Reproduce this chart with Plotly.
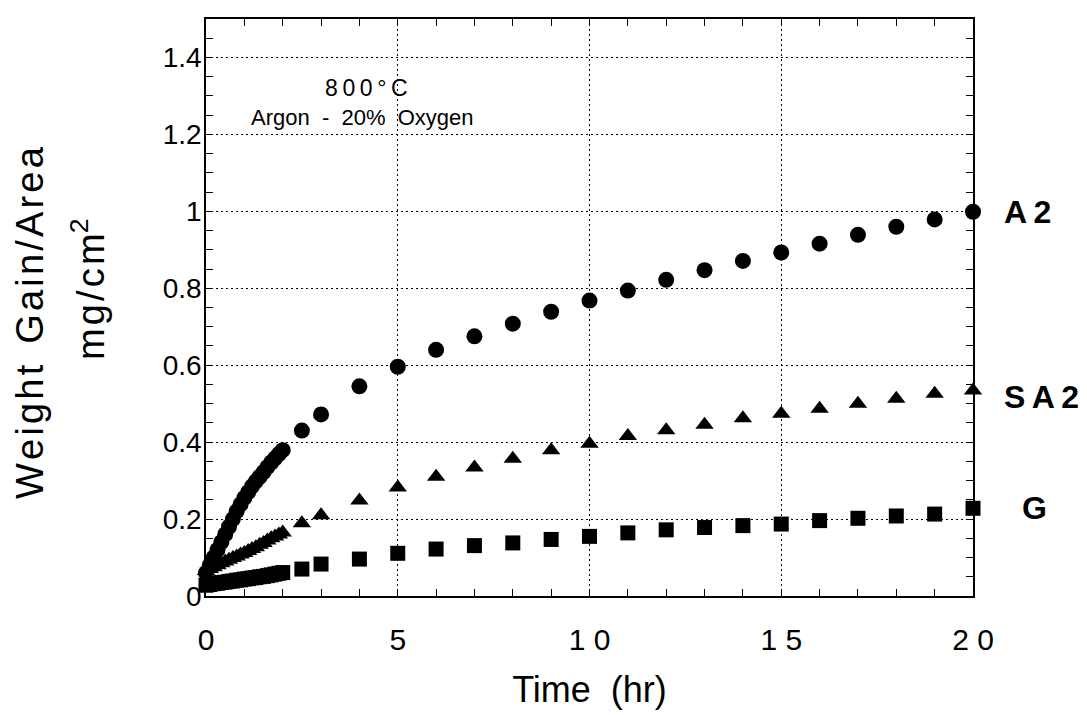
import plotly.graph_objects as go

# ---- data ----
time_hr = [0, 0.1, 0.2, 0.3, 0.4, 0.5, 0.6, 0.7, 0.8, 0.9, 1.0, 1.1, 1.2, 1.3, 1.4, 1.5, 1.6,
           1.7, 1.8, 1.9, 2.0, 2.5, 3, 4, 5, 6, 7, 8, 9, 10,
           11, 12, 13, 14, 15, 16, 17, 18, 19, 20]
a2 = [0.060, 0.080, 0.100, 0.120, 0.140, 0.160, 0.180, 0.200, 0.220, 0.238, 0.255, 0.270, 0.285,
      0.298, 0.310, 0.322, 0.335, 0.347, 0.358, 0.369, 0.379, 0.430, 0.472,
      0.545, 0.596, 0.640, 0.675, 0.708, 0.739, 0.768, 0.794, 0.822, 0.847, 0.871, 0.893, 0.916,
      0.939, 0.960, 0.979, 0.999]
sa2 = [0.065, 0.070, 0.075, 0.080, 0.085, 0.090, 0.094, 0.099, 0.103, 0.108, 0.112, 0.117, 0.122,
       0.127, 0.133, 0.138, 0.144, 0.150, 0.155, 0.160, 0.165, 0.189, 0.210,
       0.248, 0.282, 0.310, 0.334, 0.357, 0.379, 0.396, 0.416, 0.431, 0.445, 0.462, 0.474, 0.487,
       0.500, 0.513, 0.526, 0.534]
g = [0.028, 0.030, 0.032, 0.033, 0.035, 0.036, 0.038, 0.039, 0.041, 0.042, 0.044, 0.045, 0.047,
     0.048, 0.050, 0.051, 0.053, 0.055, 0.057, 0.059, 0.061, 0.070, 0.083,
     0.096, 0.111, 0.122, 0.131, 0.138, 0.147, 0.155, 0.164, 0.172, 0.178, 0.183, 0.187, 0.196,
     0.202, 0.208, 0.213, 0.228]

series_names = ["A2", "SA2", "G"]
series_symbols = ["circle", "triangle-up", "square"]

x_tick_vals = [0, 5, 10, 15, 20]
x_tick_text = ["0", "5", "1 0", "1 5", "2 0"]
y_tick_vals = [0, 0.2, 0.4, 0.6, 0.8, 1.0, 1.2, 1.4]
y_tick_text = ["0", "0.2", "0.4", "0.6", "0.8", "1", "1.2", "1.4"]

# ---- layout geometry (pixels) ----
W, H = 1087, 715
OFF = 8                      # page body margin in the browser
L, R, T, B = 198, 122, 9, 127
PW, PH = W - L - R, H - T - B
HS = "\u200a"                # hair space (letter tracking)


def px(xr):
    return (xr - OFF - L) / PW


def py(yr):
    return (H - B - (yr - OFF)) / PH


def track(s):
    return HS.join(s)


fig = go.Figure()
for name, sym, vals, size in zip(series_names, series_symbols, [a2, sa2, g], [16, 16, 15]):
    fig.add_trace(go.Scatter(
        x=time_hr, y=vals, mode="markers", name=name,
        marker=dict(symbol=sym, size=size, color="black", line=dict(width=0)),
        cliponaxis=False, showlegend=False,
    ))

axis_common = dict(
    showline=True, linecolor="black", linewidth=1.5, mirror="allticks",
    ticks="inside", ticklen=7, tickcolor="black", tickwidth=1,
    showgrid=True, gridcolor="black", gridwidth=1, griddash="2px,3px",
    zeroline=False,
)

fig.update_xaxes(
    range=[0, 20], tickvals=x_tick_vals, ticktext=x_tick_text,
    tickfont=dict(family="Liberation Sans Narrow, Arial Narrow, Liberation Sans", size=30, color="black"),
    ticklabelstandoff=16,
    minor=dict(dtick=1, ticks="inside", ticklen=7, tickcolor="black", showgrid=False),
    title=dict(text="Time  (hr)", font=dict(family="Liberation Sans Narrow, Arial Narrow, Liberation Sans",
                                             size=36, color="black"), standoff=22),
    **axis_common,
)
fig.update_yaxes(
    range=[0, 1.5], tickvals=y_tick_vals, ticktext=y_tick_text,
    tickfont=dict(family="Liberation Sans, Arial", size=28, color="black"),
    ticklabelstandoff=-3,
    minor=dict(dtick=0.05, ticks="inside", ticklen=7, tickcolor="black", showgrid=False),
    **axis_common,
)

annotations = [
    dict(text=track("Weight") + "  " + track("Gain/Area"), x=px(30), y=py(322), textangle=-90,
         font=dict(family="Liberation Sans, Arial", size=38, color="black")),
    dict(text=track("mg/cm") + "<sup>2</sup>", x=px(88), y=py(288), textangle=-90,
         font=dict(family="Liberation Sans, Arial", size=38, color="black")),
    dict(text="8\u20090\u20090\u2009°\u2009C", x=px(366), y=py(86),
         font=dict(family="Liberation Sans, Arial", size=23, color="black")),
    dict(text="Argon  -  20%  Oxygen", x=px(362), y=py(116),
         font=dict(family="Liberation Sans, Arial", size=22, color="black")),
    dict(text="<b>A\u20092</b>", x=px(1027), y=py(211),
         font=dict(family="Liberation Sans, Arial", size=32, color="black")),
    dict(text="<b>S\u2009A\u20092</b>", x=px(1041), y=py(396),
         font=dict(family="Liberation Sans, Arial", size=32, color="black")),
    dict(text="<b>G</b>", x=px(1034), y=py(508),
         font=dict(family="Liberation Sans, Arial", size=32, color="black")),
]
for a in annotations:
    a.update(xref="paper", yref="paper", showarrow=False, xanchor="center", yanchor="middle")

fig.update_layout(
    width=W, height=H,
    margin=dict(l=L, r=R, t=T, b=B, pad=0),
    paper_bgcolor="white", plot_bgcolor="white",
    annotations=annotations,
    font=dict(family="Liberation Sans, Arial", color="black"),
)

fig.write_html("out.html")
